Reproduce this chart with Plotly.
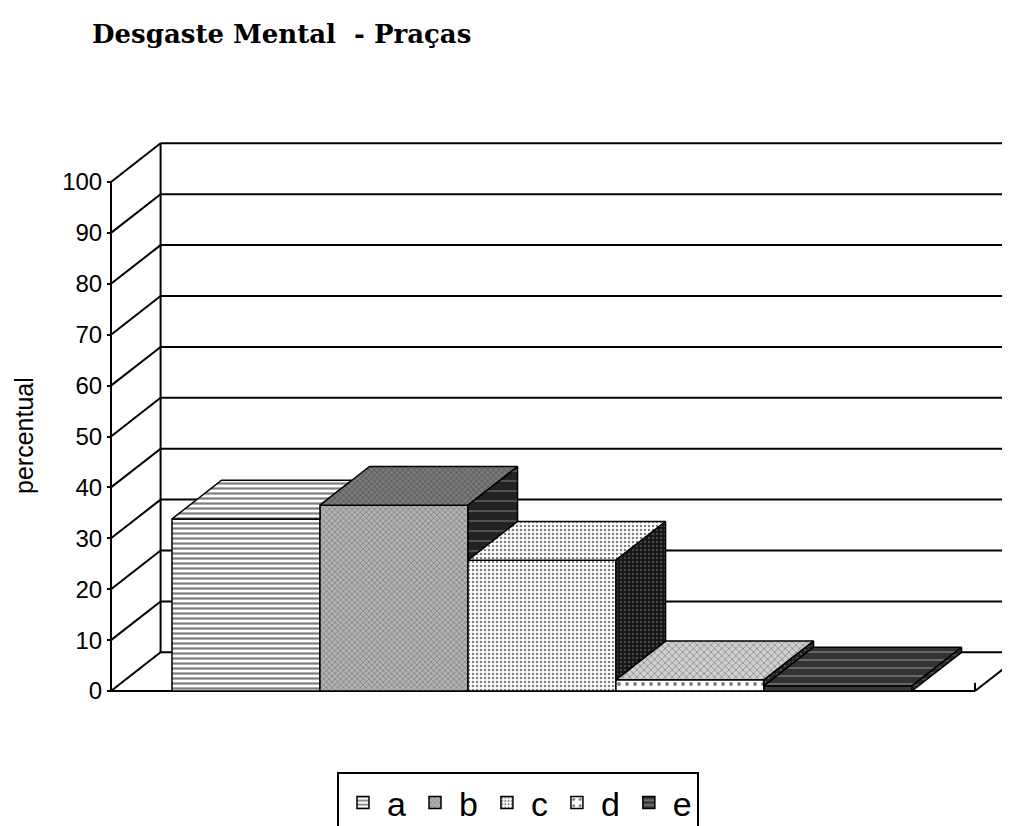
import plotly.graph_objects as go

# ---------------- data ----------------
title_text = "Desgaste Mental\u00a0 - Praças"
series = ["a", "b", "c", "d", "e"]
values = [33.8, 36.5, 25.7, 2.2, 1.0]
tick_vals = [0, 10, 20, 30, 40, 50, 60, 70, 80, 90, 100]
tick_text = ["0", "10", "20", "30", "40", "50", "60", "70", "80", "90", "100"]
y_title = "percentual"

# ---------------- style / layout constants ----------------
W, H = 1010, 826
OFF = 8                  # page offset of the figure (body margin)
ML, MR, MT, MB = 95, 0, 128, 139
PX_PER_X = 148.0
PX_PER_Y = 5.09
AXIS_PX = 111 - OFF      # pixel x of the front vertical axis
ZERO_PX = 691 - OFF      # pixel y of value 0 on the front plane
X_LEFT = -0.912          # front-left corner of the floor (x units)
X_RIGHT = 4.926          # front-right corner of the floor
DX, DY = 0.335, 7.6      # 3-D depth offset (x units, y units)
BAR_W = 1.0

plot_w = W - ML - MR
plot_h = H - MT - MB
x0_range = X_LEFT - (AXIS_PX - ML) / PX_PER_X
x1_range = x0_range + plot_w / PX_PER_X
y0_range = -((H - MB) - ZERO_PX) / PX_PER_Y
y1_range = y0_range + plot_h / PX_PER_Y

front_pat = [
    dict(shape="-", fgcolor="black", bgcolor="white", size=5, solidity=0.45),
    dict(shape="x", fgcolor="#333333", bgcolor="#b4b4b4", size=4, solidity=0.3),
    dict(shape=".", fgcolor="black", bgcolor="white", size=4, solidity=0.32),
    dict(shape=".", fgcolor="black", bgcolor="white", size=8, solidity=0.18),
    dict(shape="-", fgcolor="#cfcfcf", bgcolor="#3a3a3a", size=6, solidity=0.3),
]
top_pat = [
    dict(shape="-", fgcolor="black", bgcolor="white", size=5, solidity=0.45),
    dict(shape="x", fgcolor="#222222", bgcolor="#7a7a7a", size=4, solidity=0.3),
    dict(shape=".", fgcolor="black", bgcolor="white", size=4, solidity=0.32),
    dict(shape="x", fgcolor="#444444", bgcolor="#d0d0d0", size=5, solidity=0.3),
    dict(shape="-", fgcolor="#dddddd", bgcolor="#333333", size=8, solidity=0.15),
]
side_pat = [
    dict(shape="-", fgcolor="#dddddd", bgcolor="#222222", size=10, solidity=0.1),
    dict(shape="-", fgcolor="#dddddd", bgcolor="#222222", size=10, solidity=0.1),
    dict(shape=".", fgcolor="#777777", bgcolor="#151515", size=4, solidity=0.3),
    dict(shape=".", fgcolor="#777777", bgcolor="#222222", size=4, solidity=0.3),
    dict(shape="-", fgcolor="#888888", bgcolor="#2a2a2a", size=6, solidity=0.2),
]

fig = go.Figure()

# front faces: real bars
for i, (name, v) in enumerate(zip(series, values)):
    fig.add_trace(go.Bar(
        x=[i], y=[v], width=BAR_W, name=name,
        marker=dict(color="white", pattern=front_pat[i],
                    line=dict(color="black", width=1.5)),
        hoverinfo="name+y",
    ))

# depth faces (visible parts only), computed from the values
slope = DY / DX
for i, v in enumerate(values):
    xl, xr = i - BAR_W / 2, i + BAR_W / 2
    hn = values[i + 1] if i + 1 < len(values) else 0.0
    # top face
    if hn <= v:
        tx = [xl, xr, xr + DX, xl + DX, xl]
        ty = [v, v, v + DY, v + DY, v]
    elif hn < v + DY:
        xm = xr + (v + DY - hn) / slope
        tx = [xl, xr, xr, xm, xl + DX, xl]
        ty = [v, v, hn, v + DY, v + DY, v]
    else:
        tx = [xl, xr, xr, xl + DX, xl]
        ty = [v, v, v + DY, v + DY, v]
    fig.add_trace(go.Scatter(
        x=tx, y=ty, mode="lines", fill="toself", fillcolor="white",
        fillpattern=top_pat[i], line=dict(color="black", width=1.5),
        showlegend=False, hoverinfo="skip"))
    # side face
    if v > hn:
        sx = [xr, xr, xr + DX, xr + DX, xr]
        sy = [hn, v, v + DY, hn + DY, hn]
        fig.add_trace(go.Scatter(
            x=sx, y=sy, mode="lines", fill="toself", fillcolor="#222",
            fillpattern=side_pat[i], line=dict(color="black", width=1.5),
            showlegend=False, hoverinfo="skip"))

# walls, floor and gridlines
shapes = []
line_style = dict(color="black", width=2)
for v in tick_vals:
    shapes.append(dict(type="line", xref="x", yref="y", layer="below",
                       x0=X_LEFT + DX, y0=v + DY, x1=x1_range + 1, y1=v + DY,
                       line=line_style))
    shapes.append(dict(type="line", xref="x", yref="y", layer="below",
                       x0=X_LEFT, y0=v, x1=X_LEFT + DX, y1=v + DY,
                       line=line_style))
shapes.append(dict(type="line", xref="x", yref="y", layer="below",
                   x0=X_LEFT + DX, y0=tick_vals[0] + DY,
                   x1=X_LEFT + DX, y1=tick_vals[-1] + DY, line=line_style))
shapes.append(dict(type="line", xref="x", yref="y", layer="below",
                   x0=X_LEFT, y0=tick_vals[0], x1=X_LEFT, y1=tick_vals[-1],
                   line=line_style))
shapes.append(dict(type="line", xref="x", yref="y", layer="below",
                   x0=X_LEFT, y0=0, x1=X_RIGHT, y1=0, line=line_style))
shapes.append(dict(type="line", xref="x", yref="y", layer="below",
                   x0=X_RIGHT, y0=0, x1=X_RIGHT + DX, y1=DY, line=line_style))
shapes.append(dict(type="line", xref="x", yref="y", layer="below",
                   x0=X_RIGHT, y0=0, x1=X_RIGHT, y1=1.6, line=line_style))

fig.update_layout(
    width=W, height=H,
    margin=dict(l=ML, r=MR, t=MT, b=MB, pad=0, autoexpand=False),
    paper_bgcolor="white", plot_bgcolor="white",
    barmode="overlay",
    shapes=shapes,
    font=dict(family="Liberation Sans, Arial, sans-serif", color="black"),
    title=dict(text=title_text, xref="container", yref="container",
               x=(92 - OFF) / W, xanchor="left", y=1 - 17 / H, yanchor="top",
               font=dict(family="DejaVu Serif, serif",
                         size=26, weight="bold", color="black")),
    xaxis=dict(range=[x0_range, x1_range], visible=False, fixedrange=True),
    yaxis=dict(range=[y0_range, y1_range], anchor="free", automargin=False,
               position=(AXIS_PX - ML) / plot_w,
               tickvals=tick_vals, ticktext=tick_text,
               ticks="outside", ticklen=4, tickwidth=2, tickcolor="black",
               showgrid=False, zeroline=False, showline=False,
               tickfont=dict(size=24, color="black")),
    annotations=[dict(text=y_title, textangle=-90, showarrow=False,
                      xref="paper", yref="paper",
                      x=(24 - OFF - ML) / plot_w,
                      y=((H - MB) - (436 - OFF)) / plot_h,
                      xanchor="center", yanchor="middle",
                      font=dict(size=25, color="black"))],
    legend=dict(orientation="h", xanchor="left", yanchor="top",
                x=(337 - OFF - ML) / plot_w,
                y=-((772 - OFF) - (H - MB)) / plot_h,
                bordercolor="black", borderwidth=2, bgcolor="white",
                itemwidth=38,
                font=dict(size=34, color="black"), traceorder="normal"),
    showlegend=True,
)

fig.write_html("out.html")
